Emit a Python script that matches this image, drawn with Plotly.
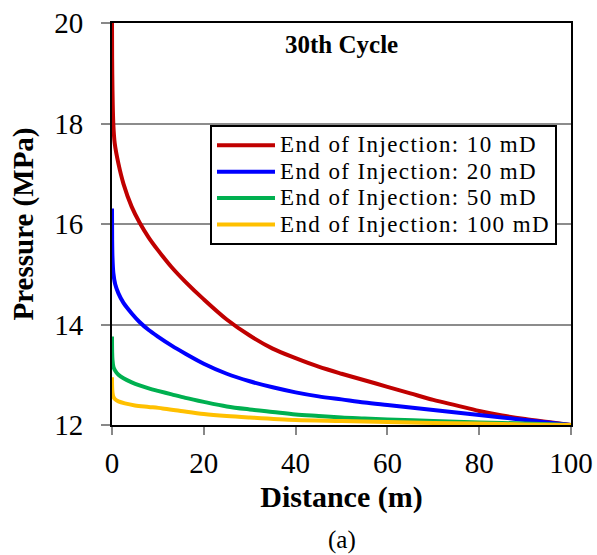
import plotly.graph_objects as go

# Distance (m) and pressure (MPa)
x_red = [0, 0.03, 0.1, 0.28, 0.6, 1.4, 2.5, 4.3, 6, 8, 10, 13, 16, 20, 25, 30, 35, 40, 45, 50,
         55, 60, 65, 70, 75, 80, 85, 90, 95, 100]
p_red = [20, 19.3, 18.7, 18.0, 17.6, 17.2, 16.8, 16.34, 16.03, 15.73, 15.48, 15.14, 14.85, 14.5,
         14.1, 13.78, 13.52, 13.33, 13.16, 13.02, 12.89, 12.76, 12.63, 12.5, 12.39, 12.28, 12.19,
         12.12, 12.06, 12.0]

x_blue = [0, 0.03, 0.1, 0.3, 0.7, 1.4, 2.5, 4.3, 6, 8, 10, 13, 16, 20, 25, 30, 35, 40, 45, 50,
          55, 60, 65, 70, 75, 80, 85, 90, 95, 100]
p_blue = [16.31, 15.7, 15.35, 15.02, 14.8, 14.62, 14.43, 14.22, 14.05, 13.89, 13.76, 13.58, 13.42,
          13.22, 13.02, 12.87, 12.75, 12.65, 12.57, 12.51, 12.45, 12.40, 12.35, 12.30, 12.25, 12.20,
          12.15, 12.10, 12.05, 12.0]

x_green = [0, 0.03, 0.1, 0.3, 0.7, 1.4, 2.5, 4.3, 6, 8, 10, 13, 16, 20, 25, 30, 35, 40, 45, 50,
           55, 60, 70, 80, 90, 100]
p_green = [13.76, 13.45, 13.3, 13.16, 13.08, 13.0, 12.93, 12.85, 12.79, 12.73, 12.68, 12.61, 12.54,
           12.46, 12.37, 12.31, 12.26, 12.21, 12.18, 12.15, 12.13, 12.11, 12.08, 12.05, 12.03, 12.0]

x_yellow = [0, 0.03, 0.1, 0.3, 0.7, 1.4, 2.8, 5, 8, 11, 15, 20, 25, 30, 40, 50, 60, 70, 80, 90, 100]
p_yellow = [12.95, 12.75, 12.65, 12.56, 12.51, 12.47, 12.43, 12.39, 12.36, 12.33, 12.28, 12.22,
            12.18, 12.15, 12.1, 12.08, 12.06, 12.04, 12.03, 12.01, 12.0]

series_names = ["End of Injection: 10 mD", "End of Injection: 20 mD",
                "End of Injection: 50 mD", "End of Injection: 100 mD"]
colors = ["#C00000", "#0000FF", "#00B050", "#FFC000"]

x_ticks = [0, 20, 40, 60, 80, 100]
y_ticks = [12, 14, 16, 18, 20]

FONT = "Liberation Serif"

fig = go.Figure()
for xs, ps, name, col in zip([x_red, x_blue, x_green, x_yellow],
                             [p_red, p_blue, p_green, p_yellow],
                             series_names, colors):
    fig.add_trace(go.Scatter(
        x=xs, y=ps, mode="lines",
        name='<span style="font-size:23px;letter-spacing:1.4px">' + name + '</span>',
        line=dict(color=col, width=4, shape="spline", smoothing=0.9)))

fig.update_layout(
    width=597, height=555,
    margin=dict(l=112, r=26, t=23, b=130, autoexpand=False),
    paper_bgcolor="white", plot_bgcolor="white",
    font=dict(family=FONT, color="black"),
    showlegend=True,
    legend=dict(x=0.2135, y=0.746, xanchor="left", yanchor="top",
                bgcolor="white", bordercolor="black", borderwidth=2,
                font=dict(family=FONT, size=18, color="black"),
                itemwidth=58, tracegroupgap=0),
    annotations=[
        dict(text="<b>30th Cycle</b>", x=0.5, y=0.985, xref="paper", yref="paper",
             xanchor="center", yanchor="top", showarrow=False,
             font=dict(family=FONT, size=25, color="black")),
        dict(text="(a)", x=0.5, y=-0.285, xref="paper", yref="paper",
             xanchor="center", yanchor="middle", showarrow=False,
             font=dict(family=FONT, size=25, color="black")),
    ],
)

fig.update_xaxes(range=[0, 100], tickvals=x_ticks, ticktext=[str(v) for v in x_ticks],
                 showgrid=False, zeroline=False, automargin=False,
                 showline=True, linecolor="black", linewidth=2, mirror=True,
                 ticks="outside", ticklen=8, tickwidth=2, tickcolor="#888888",
                 ticklabelstandoff=3,
                 tickfont=dict(family=FONT, size=29, color="black"),
                 title=dict(text="<b>Distance (m)</b>", standoff=8,
                            font=dict(family=FONT, size=30, color="black")))

fig.update_yaxes(range=[12, 20], tickvals=y_ticks, ticktext=[str(v) for v in y_ticks],
                 showgrid=True, gridcolor="#8c8c8c", gridwidth=2, zeroline=False,
                 automargin=False,
                 showline=True, linecolor="black", linewidth=2, mirror=True,
                 ticks="outside", ticklen=9, tickwidth=2, tickcolor="#888888",
                 ticklabelstandoff=12,
                 tickfont=dict(family=FONT, size=29, color="black"),
                 title=dict(text="<b>Pressure (MPa)</b>", standoff=12,
                            font=dict(family=FONT, size=29, color="black")))

fig.write_html("out.html")
